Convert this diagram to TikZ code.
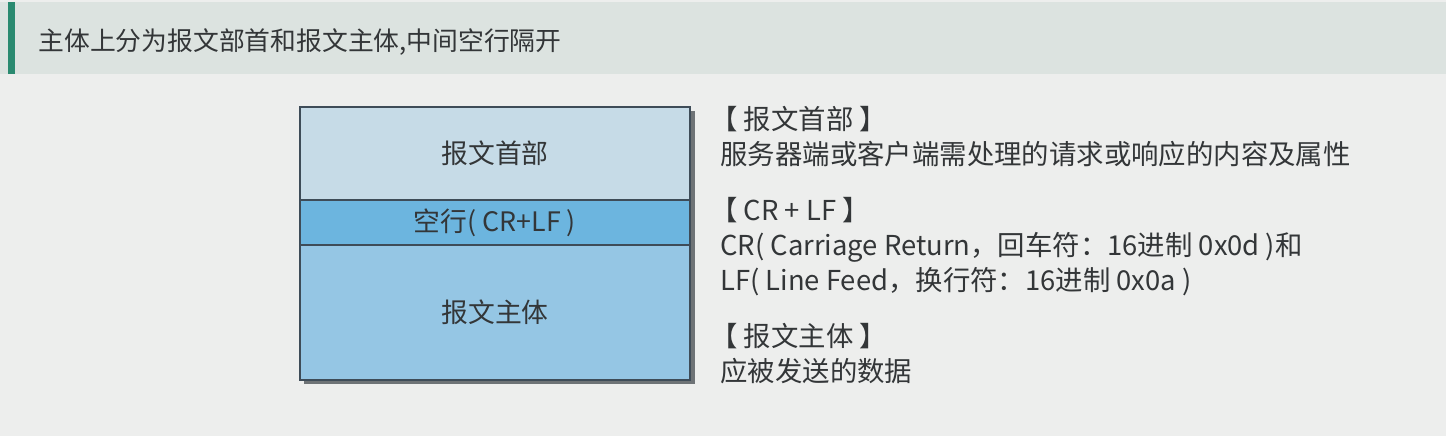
\documentclass[tikz,border=0pt]{standalone}
\usepackage{fontspec}
\setmainfont{Noto Sans CJK SC}
\usepackage{xcolor}
\definecolor{PageGrey}{HTML}{EDEEED}
\definecolor{BandGrey}{HTML}{DCE3E0}
\definecolor{BandGreen}{HTML}{2A8A70}
\definecolor{HeadBlue}{HTML}{C6DBE7}
\definecolor{BlankBlue}{HTML}{6CB5DF}
\definecolor{BodyBlue}{HTML}{95C6E4}
\definecolor{FrameGrey}{HTML}{3E4C58}
\definecolor{ShadowGrey}{HTML}{6E7376}
\definecolor{InkGrey}{HTML}{333638}
\usetikzlibrary{positioning}

\begin{document}
\begin{tikzpicture}[
  x=0.5pt,y=-0.5pt,
  part/.style={draw=FrameGrey,line width=1pt,minimum width=195pt,inner sep=0pt,outer sep=0pt,text=InkGrey,font=\fontsize{13.4}{15}\selectfont},
  note/.style={anchor=north west,align=left,inner sep=0pt,text=InkGrey,font=\fontsize{13.7}{17.5}\selectfont}
]
% page and title band
\useasboundingbox[fill=PageGrey] (0,0) rectangle (1446,436);
\fill[BandGrey] (0,2) rectangle (1446,74);
\fill[BandGreen] (8,2) rectangle (15,74);
\node[anchor=west,inner sep=0pt,text=InkGrey,font=\fontsize{12.9}{15}\selectfont] (title) at (38,42) {主体上分为报文部首和报文主体,中间空行隔开};
% message layout
\fill[ShadowGrey] (304,111) rectangle (695,384);
\node[part,fill=HeadBlue,minimum height=46.5pt,anchor=north west] (head) at (300,107) {报文首部};
\node[part,fill=BlankBlue,minimum height=22.5pt,below=0pt of head] (blank) {空行( CR+LF )};
\node[part,fill=BodyBlue,minimum height=67.5pt,below=0pt of blank] (body) {报文主体};
% descriptions
\node[note] (headnote) at (710,106) {【 报文首部 】\\\hspace*{5pt}服务器端或客户端需处理的请求或响应的内容及属性};
\node[note] (blanknote) at (710,197) {【 CR + LF 】\\\hspace*{5pt}CR( Carriage Return，回车符：16进制 0x0d )和\\\hspace*{5pt}LF( Line Feed，换行符：16进制 0x0a )};
\node[note] (bodynote) at (710,323) {【 报文主体 】\\\hspace*{5pt}应被发送的数据};
\end{tikzpicture}
\end{document}
